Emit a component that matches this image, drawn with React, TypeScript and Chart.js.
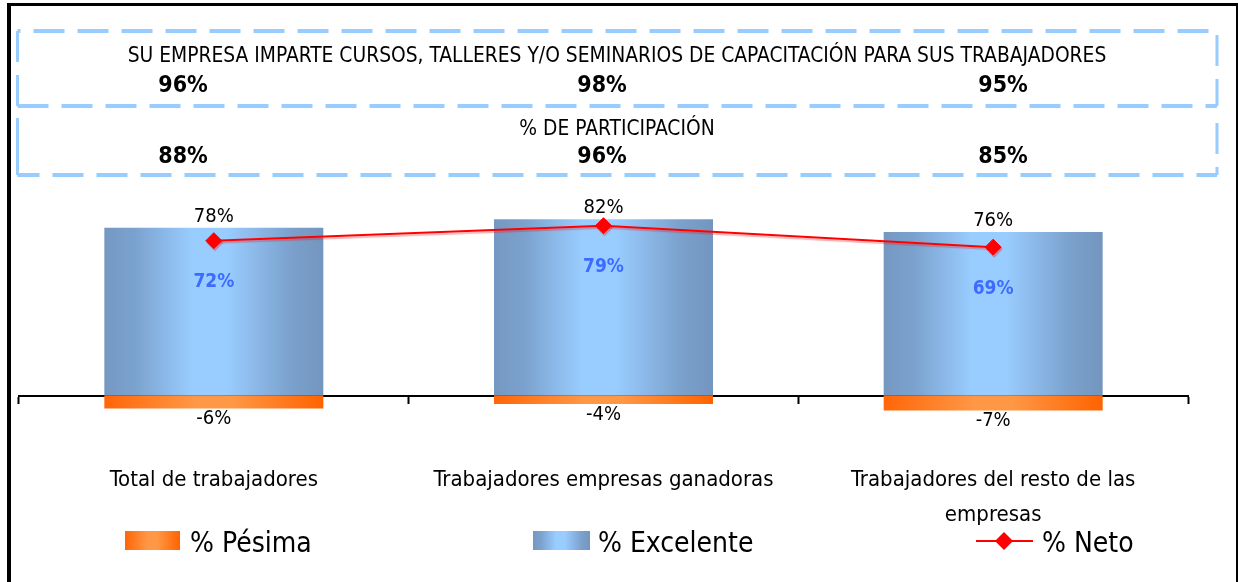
import React, { useEffect, useRef } from 'react';
import { Chart, registerables } from 'chart.js';

Chart.register(...registerables);

// ---- data ----
const categories: (string | string[])[] = [
  'Total de trabajadores',
  'Trabajadores empresas ganadoras',
  ['Trabajadores del resto de las', 'empresas'],
];
const excelente = [78, 82, 76];
const pesima = [-6, -4, -7];
const neto = [72, 79, 69];
const imparte = [96, 98, 95];
const participacion = [88, 96, 85];
const headerTitles = [
  'SU EMPRESA IMPARTE CURSOS, TALLERES Y/O SEMINARIOS DE CAPACITACIÓN PARA SUS TRABAJADORES',
  '% DE PARTICIPACIÓN',
];
const seriesNames = ['% Pésima', '% Excelente', '% Neto'];

// ---- styles ----
const FONT = "'DejaVu Sans Condensed', 'DejaVu Sans', sans-serif";
const BAR_FRACTION = 0.562;
const BLUE_STOPS: [number, string][] = [
  [0, '#7598c2'],
  [0.14, '#7ba2ce'],
  [0.4, '#99ccff'],
  [0.56, '#99ccff'],
  [0.86, '#7aa0cb'],
  [1, '#7396bf'],
];
const ORANGE_STOPS: [number, string][] = [
  [0, '#ff6608'],
  [0.42, '#ff9846'],
  [0.58, '#ff9846'],
  [1, '#ff6300'],
];
const DASH_COLOR = '#99ccff';

const makeGradient = (ctx: CanvasRenderingContext2D, x0: number, x1: number, stops: [number, string][]) => {
  const g = ctx.createLinearGradient(x0, 0, x1, 0);
  stops.forEach(([o, c]) => g.addColorStop(o, c));
  return g;
};

const barGradient = (stops: [number, string][]) => (c: any) => {
  const chart = c.chart;
  const xs = chart.scales?.x;
  if (!xs || !chart.chartArea || c.dataIndex === undefined) return stops[2][1];
  const cat = xs.width / categories.length;
  const cx = xs.getPixelForValue(c.dataIndex);
  const w = cat * BAR_FRACTION;
  return makeGradient(chart.ctx, cx - w / 2, cx + w / 2, stops);
};

const dashLine = (ctx: CanvasRenderingContext2D, x1: number, y1: number, x2: number, y2: number, offset: number, w: number, dash: number[] = [31, 13]) => {
  ctx.beginPath();
  ctx.setLineDash(dash);
  ctx.lineDashOffset = offset;
  ctx.lineWidth = w;
  ctx.strokeStyle = DASH_COLOR;
  ctx.moveTo(x1, y1);
  ctx.lineTo(x2, y2);
  ctx.stroke();
};

const fitFont = (ctx: CanvasRenderingContext2D, text: string, width: number) => {
  ctx.font = `100px ${FONT}`;
  return (100 * width) / ctx.measureText(text).width;
};

const decorPlugin = {
  id: 'decor',
  beforeDraw(chart: any) {
    const ctx: CanvasRenderingContext2D = chart.ctx;
    ctx.save();
    ctx.fillStyle = '#ffffff';
    ctx.fillRect(0, 0, chart.width, chart.height);

    // dashed header boxes
    const L = 17.5, R = 1217;
    dashLine(ctx, L, 31, R, 31, 28, 4);
    dashLine(ctx, L, 31, L, 106, 0, 3);
    dashLine(ctx, R, 35, R, 106, 0, 3);
    dashLine(ctx, L, 106, R, 106, 0, 4);
    dashLine(ctx, L, 118, L, 175, 0, 3, []);
    dashLine(ctx, R, 123, R, 175, 0, 3);
    dashLine(ctx, L, 175, R, 175, 9, 4);
    ctx.setLineDash([]);

    // header texts
    const titleSize = fitFont(ctx, headerTitles[0], 979);
    ctx.fillStyle = '#000';
    ctx.textAlign = 'center';
    ctx.textBaseline = 'alphabetic';
    ctx.font = `${titleSize}px ${FONT}`;
    ctx.fillText(headerTitles[0], 617, 62.3);
    ctx.fillText(headerTitles[1], 617, 134.8);

    const colX = [183, 602, 1003];
    ctx.font = `bold 23px ${FONT}`;
    imparte.forEach((v, i) => ctx.fillText(`${v}%`, colX[i], 91.5));
    participacion.forEach((v, i) => ctx.fillText(`${v}%`, colX[i], 163.4));
    ctx.restore();
  },
  beforeDatasetDraw(chart: any, args: any) {
    if (args.index === 0) {
      const ctx = chart.ctx;
      ctx.save();
      ctx.shadowColor = 'rgba(255,0,0,0.3)';
      ctx.shadowOffsetX = 1;
      ctx.shadowOffsetY = 2;
      ctx.shadowBlur = 1;
    }
  },
  afterDatasetDraw(chart: any, args: any) {
    if (args.index === 0) chart.ctx.restore();
  },
  afterDraw(chart: any) {
    const ctx: CanvasRenderingContext2D = chart.ctx;
    ctx.save();
    ctx.textAlign = 'center';
    ctx.textBaseline = 'alphabetic';

    const lineMeta = chart.getDatasetMeta(0);
    const excMeta = chart.getDatasetMeta(1);
    const pesMeta = chart.getDatasetMeta(2);

    ctx.font = `20px ${FONT}`;
    ctx.fillStyle = '#000';
    excMeta.data.forEach((el: any, i: number) => ctx.fillText(`${excelente[i]}%`, el.x, el.y - 6));
    pesMeta.data.forEach((el: any, i: number) => ctx.fillText(`${pesima[i]}%`, el.x, el.y + 15.5));

    ctx.font = `bold 19px ${FONT}`;
    ctx.fillStyle = '#3d6bff';
    lineMeta.data.forEach((el: any, i: number) => ctx.fillText(`${neto[i]}%`, el.x, el.y + 46.5));

    // legend
    ctx.textAlign = 'left';
    ctx.font = `28px ${FONT}`;
    ctx.fillStyle = makeGradient(ctx, 125, 180, ORANGE_STOPS);
    ctx.fillRect(125, 531, 55, 19);
    ctx.fillStyle = makeGradient(ctx, 533, 590, BLUE_STOPS);
    ctx.fillRect(533, 531, 57, 19);
    ctx.fillStyle = '#000';
    ctx.fillText(seriesNames[0], 190, 551.5);
    ctx.fillText(seriesNames[1], 598, 551.5);
    ctx.fillText(seriesNames[2], 1042, 551.5);
    ctx.strokeStyle = '#ff0000';
    ctx.lineWidth = 2;
    ctx.beginPath();
    ctx.moveTo(976, 541);
    ctx.lineTo(1033, 541);
    ctx.stroke();
    ctx.fillStyle = '#ff0000';
    ctx.beginPath();
    ctx.moveTo(1004 - 9, 541);
    ctx.lineTo(1004, 541 - 9);
    ctx.lineTo(1004 + 9, 541);
    ctx.lineTo(1004, 541 + 9);
    ctx.closePath();
    ctx.fill();

    // frame
    ctx.fillStyle = '#000';
    ctx.fillRect(7, 3, 4, chart.height);
    ctx.fillRect(7, 3, chart.width - 7, 3);
    ctx.fillRect(1236, 3, 2, chart.height);
    ctx.restore();
  },
};

export default function App() {
  const ref = useRef<HTMLCanvasElement>(null);
  useEffect(() => {
    if (!ref.current) return;
    const chart = new Chart(ref.current, {
      type: 'bar',
      data: {
        labels: categories as any,
        datasets: [
          {
            type: 'line',
            label: seriesNames[2],
            data: neto,
            order: 0,
            borderColor: '#ff0000',
            borderWidth: 2,
            pointStyle: 'rectRot',
            pointRadius: 8,
            pointBackgroundColor: '#ff0000',
            pointBorderColor: '#ff0000',
            pointBorderWidth: 1,
            tension: 0,
          } as any,
          {
            type: 'bar',
            label: seriesNames[1],
            data: excelente,
            order: 1,
            grouped: false,
            backgroundColor: barGradient(BLUE_STOPS),
            borderWidth: 0,
            barPercentage: BAR_FRACTION,
            categoryPercentage: 1,
          } as any,
          {
            type: 'bar',
            label: seriesNames[0],
            data: pesima,
            order: 2,
            grouped: false,
            backgroundColor: barGradient(ORANGE_STOPS),
            borderWidth: 0,
            barPercentage: BAR_FRACTION,
            categoryPercentage: 1,
          } as any,
        ],
      },
      options: {
        responsive: false,
        animation: false,
        devicePixelRatio: 1,
        layout: { padding: { left: 19, right: 50, top: 202, bottom: 165 } },
        plugins: { legend: { display: false }, tooltip: { enabled: false }, title: { display: false } },
        scales: {
          x: {
            position: { y: 0 } as any,
            z: 1,
            offset: true,
            grid: {
              display: true,
              drawOnChartArea: false,
              drawTicks: true,
              tickLength: 7,
              tickWidth: 2,
              tickColor: '#000',
              color: '#000',
              offset: true,
            },
            border: { display: true, color: '#000', width: 2 },
            ticks: {
              autoSkip: false,
              maxRotation: 0,
              minRotation: 0,
              padding: 61,
              color: '#000',
              font: { family: FONT, size: 22, lineHeight: 1.56 },
            },
          },
          y: {
            display: false,
            min: -10,
            max: 90,
          },
        },
      },
      plugins: [decorPlugin],
    });
    return () => chart.destroy();
  }, []);
  return (
    <div style={{ position: 'fixed', left: 0, top: 0, width: 1238, height: 582, background: '#fff' }}>
      <canvas ref={ref} width={1238} height={582} style={{ display: 'block' }} />
    </div>
  );
}
